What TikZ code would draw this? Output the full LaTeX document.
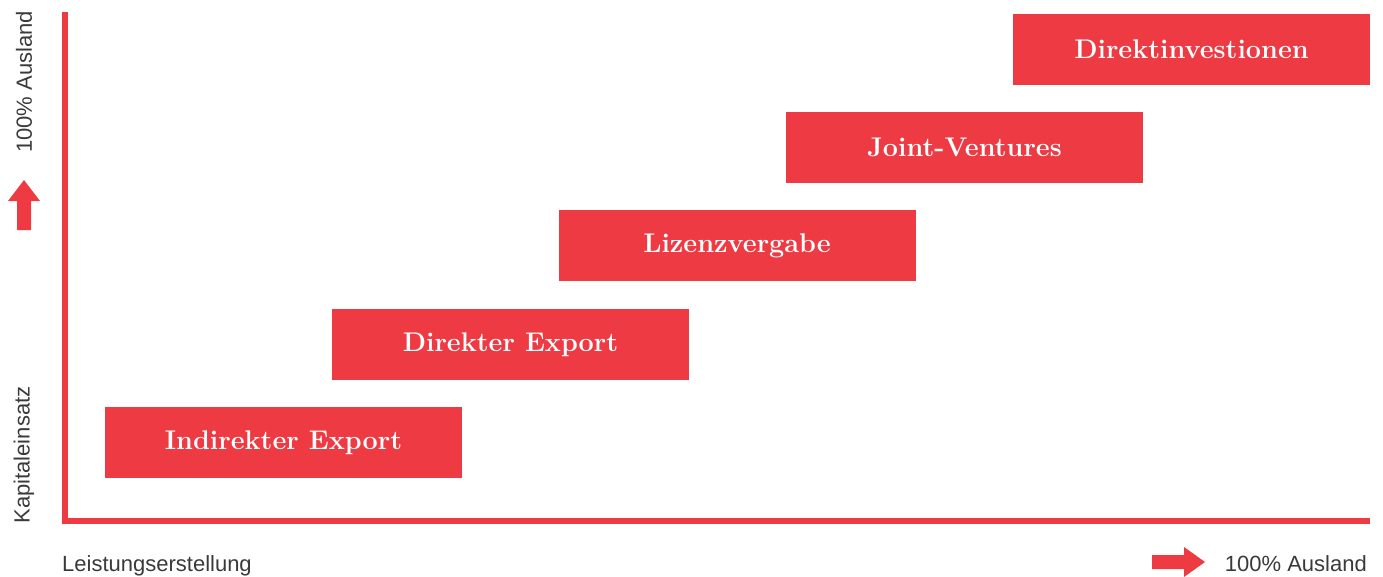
\documentclass[tikz,border=0pt]{standalone}
\usepackage{fontspec}
\newfontfamily\axisfont{Liberation Sans}
\definecolor{brandred}{HTML}{EE3A43}
\definecolor{axisgray}{HTML}{3A3A3A}
\tikzset{
  stage/.style={fill=brandred, draw=none, minimum width=357pt, minimum height=71pt,
    inner sep=0pt, text=white, font=\fontsize{27}{30}\selectfont\bfseries},
  axislabel/.style={text=axisgray, font=\axisfont\fontsize{22}{25}\selectfont, inner sep=0pt},
  axisline/.style={draw=brandred, line width=6.5pt, line cap=butt, line join=miter},
  bigarrow/.style={fill=brandred, draw=none}
}
\begin{document}
\begin{tikzpicture}[x=1pt,y=-1pt]
\useasboundingbox (0,0) rectangle (1383,576);
% axes
\coordinate (top) at (65,12);
\coordinate (origin) at (65,521);
\coordinate (right) at (1370,521);
\draw[axisline] (top) -- (origin) -- (right);
% stages
\node[stage] (s1) at (283.5,442.5) {Indirekter Export};
\node[stage] (s2) at (510.5,344.5) {Direkter Export};
\node[stage] (s3) at (737,245.5) {Lizenzvergabe};
\node[stage] (s4) at (964.5,147.5) {Joint-Ventures};
\node[stage] (s5) at (1191.5,49.5) {Direktinvestionen};
% axis labels
\node[axislabel, rotate=90] (yl1) at (24,82) {100\% Ausland};
\node[axislabel, rotate=90] (yl2) at (24,455) {Kapitaleinsatz};
\node[axislabel, anchor=base west] (xl1) at (62,571) {Leistungserstellung};
\node[axislabel, anchor=base east] (xl2) at (1367,571) {100\% Ausland};
% arrows
\fill[bigarrow] (24,180) -- (40,201) -- (31,201) -- (31,230) -- (17,230) -- (17,201) -- (8,201) -- cycle;
\fill[bigarrow] (1205,562) -- (1184,547) -- (1184,555) -- (1152,555) -- (1152,569) -- (1184,569) -- (1184,577) -- cycle;
\end{tikzpicture}
\end{document}
